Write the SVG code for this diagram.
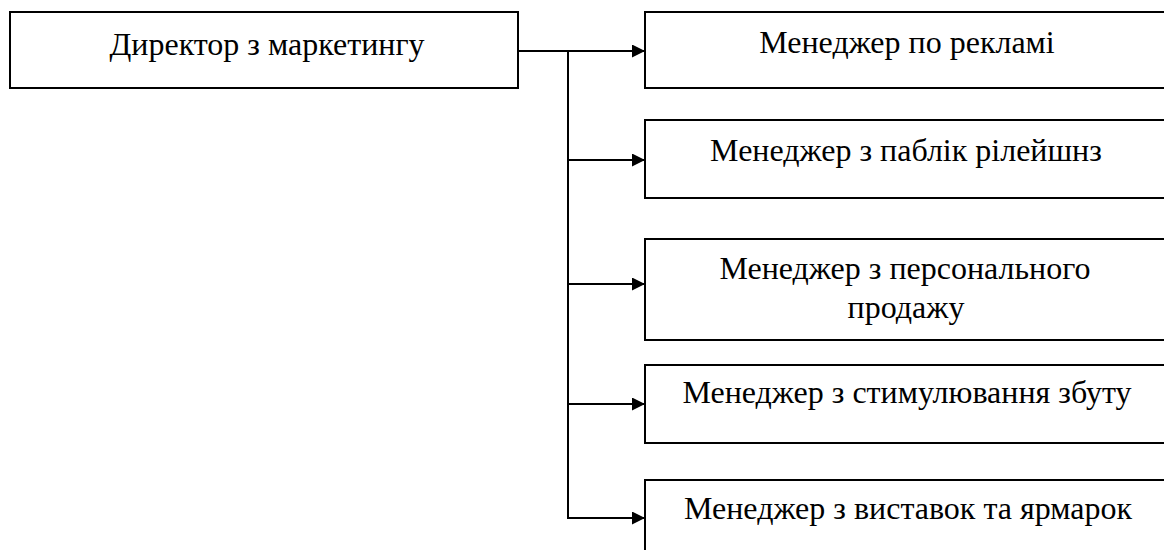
<svg xmlns="http://www.w3.org/2000/svg" width="1164" height="550" viewBox="0 0 1164 550">
<defs>
<style>
.box{fill:#fff;stroke:#000;stroke-width:2}
.t{font-family:"Liberation Serif","Times New Roman",serif;font-size:32px;fill:#000;text-anchor:middle}
.c{fill:none;stroke:#000;stroke-width:2}
</style>
<marker id="ah" viewBox="0 0 13 13" refX="13" refY="6.5" markerWidth="13" markerHeight="13" markerUnits="userSpaceOnUse" orient="auto">
<path d="M0,0 L13,6.5 L0,13 Z" fill="#000"/>
</marker>
</defs>
<rect width="1164" height="550" fill="#fff"/>
<g id="director">
<rect class="box" x="10" y="12" width="508" height="76"/>
<text class="t" x="267" y="55">Директор з маркетингу</text>
</g>
<g id="advertising">
<rect class="box" x="645" y="12" width="530" height="76"/>
<text class="t" x="907" y="53">Менеджер по рекламі</text>
</g>
<g id="pr">
<rect class="box" x="645" y="120" width="530" height="78"/>
<text class="t" x="906" y="161">Менеджер з паблік рілейшнз</text>
</g>
<g id="personal">
<rect class="box" x="645" y="239" width="530" height="101"/>
<text class="t" x="905" y="279">Менеджер з персонального</text>
<text class="t" x="906" y="318">продажу</text>
</g>
<g id="stimulation">
<rect class="box" x="645" y="365" width="530" height="78"/>
<text class="t" x="907" y="403">Менеджер з стимулювання збуту</text>
</g>
<g id="exhibitions">
<rect class="box" x="645" y="480" width="530" height="90"/>
<text class="t" x="908" y="519">Менеджер з виставок та ярмарок</text>
</g>
<g id="connectors">
<path class="c" d="M518,51 H645" marker-end="url(#ah)"/>
<path class="c" d="M568,51 V518"/>
<path class="c" d="M568,160 H645" marker-end="url(#ah)"/>
<path class="c" d="M568,284 H645" marker-end="url(#ah)"/>
<path class="c" d="M568,404 H645" marker-end="url(#ah)"/>
<path class="c" d="M567,518 H645" marker-end="url(#ah)"/>
</g>
</svg>
